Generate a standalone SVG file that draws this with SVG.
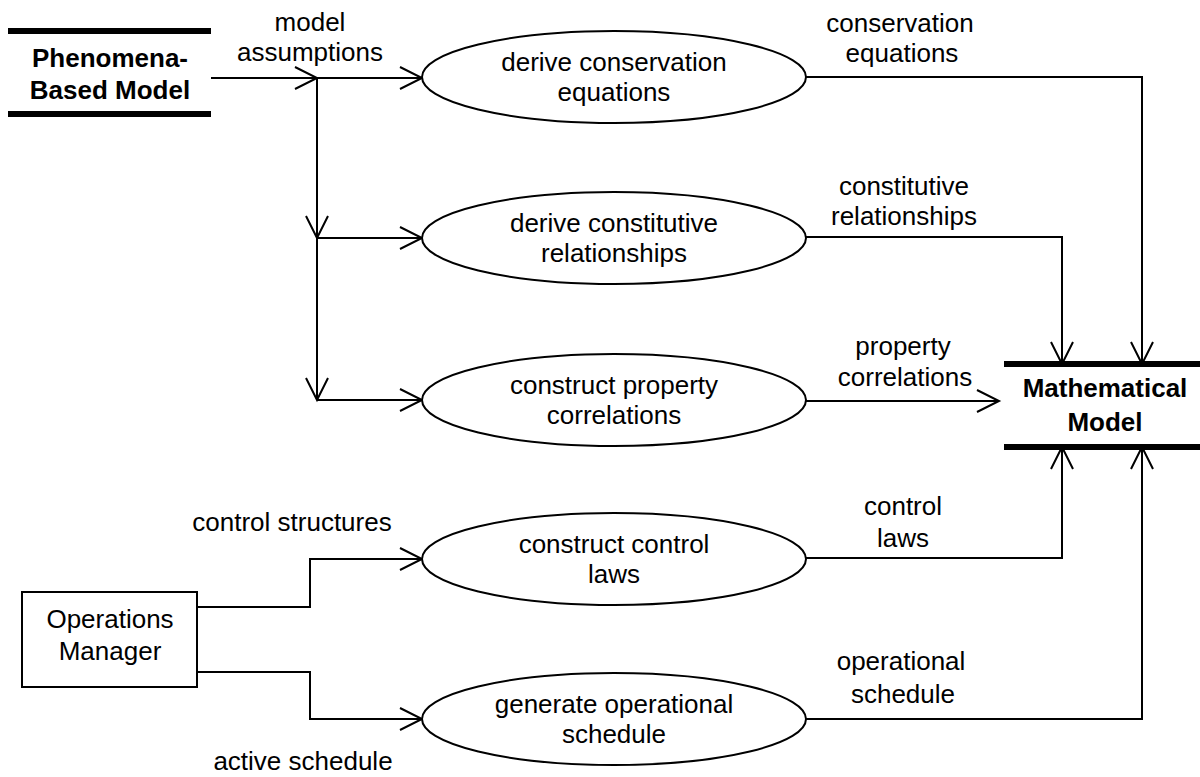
<svg xmlns="http://www.w3.org/2000/svg" width="1200" height="777" viewBox="0 0 1200 777">
<style>
text{font-family:"Liberation Sans",Arial,Helvetica,sans-serif;font-size:26px;fill:#000;text-anchor:middle}
.b{font-weight:bold}
.ln{fill:none;stroke:#000;stroke-width:2}
.bar{stroke:#000;stroke-width:6}
.el{fill:#fff;stroke:#000;stroke-width:2}
</style>
<defs>
<marker id="ah" markerUnits="userSpaceOnUse" markerWidth="26" markerHeight="26" refX="23" refY="12" orient="auto" viewBox="0 0 26 24">
<path d="M1,1 L23,12 L1,23" fill="none" stroke="#000" stroke-width="2"/>
</marker>
</defs>
<rect width="1200" height="777" fill="#fff"/>
<g id="connectors">
<path class="ln" d="M211,78 L317,78" marker-end="url(#ah)"/>
<path class="ln" d="M317,78 L422,78" marker-end="url(#ah)"/>
<path class="ln" d="M317,78 L317,238" marker-end="url(#ah)"/>
<path class="ln" d="M317,238 L317,400" marker-end="url(#ah)"/>
<path class="ln" d="M317,238 L422,238" marker-end="url(#ah)"/>
<path class="ln" d="M317,400 L422,400" marker-end="url(#ah)"/>
<path class="ln" d="M806,77 L1142,77 L1142,364" marker-end="url(#ah)"/>
<path class="ln" d="M806,237 L1062,237 L1062,364" marker-end="url(#ah)"/>
<path class="ln" d="M806,401 L999,401" marker-end="url(#ah)"/>
<path class="ln" d="M806,558 L1062,558 L1062,447" marker-end="url(#ah)"/>
<path class="ln" d="M806,719 L1142,719 L1142,447" marker-end="url(#ah)"/>
<path class="ln" d="M197,607 L310,607 L310,559 L422,559" marker-end="url(#ah)"/>
<path class="ln" d="M197,672 L310,672 L310,719 L422,719" marker-end="url(#ah)"/>
<text x="310" y="31">model</text>
<text x="310" y="61">assumptions</text>
<text x="900" y="32">conservation</text>
<text x="902" y="62">equations</text>
<text x="904" y="195">constitutive</text>
<text x="904" y="225">relationships</text>
<text x="903" y="355">property</text>
<text x="905" y="386">correlations</text>
<text x="903" y="515">control</text>
<text x="903" y="547">laws</text>
<text x="901" y="670">operational</text>
<text x="903" y="703">schedule</text>
<text x="292" y="531">control structures</text>
<text x="303" y="770">active schedule</text>
</g>
<g id="phenomena-based-model">
<line class="bar" x1="8" y1="31" x2="211" y2="31"/>
<line class="bar" x1="8" y1="114" x2="211" y2="114"/>
<text class="b" x="110" y="67">Phenomena-</text>
<text class="b" x="110" y="99">Based Model</text>
</g>
<g id="mathematical-model">
<line class="bar" x1="1004" y1="364" x2="1200" y2="364"/>
<line class="bar" x1="1004" y1="447" x2="1200" y2="447"/>
<text class="b" x="1105" y="397">Mathematical</text>
<text class="b" x="1105" y="431">Model</text>
</g>
<g id="operations-manager">
<rect x="22" y="592" width="175" height="95" fill="#fff" stroke="#000" stroke-width="2"/>
<text x="110" y="628">Operations</text>
<text x="110" y="660">Manager</text>
</g>
<g id="derive-conservation-equations">
<ellipse class="el" cx="614" cy="77" rx="192" ry="46"/>
<text x="614" y="71">derive conservation</text>
<text x="614" y="101">equations</text>
</g>
<g id="derive-constitutive-relationships">
<ellipse class="el" cx="614" cy="238" rx="192" ry="46"/>
<text x="614" y="232">derive constitutive</text>
<text x="614" y="262">relationships</text>
</g>
<g id="construct-property-correlations">
<ellipse class="el" cx="614" cy="400" rx="192" ry="46"/>
<text x="614" y="394">construct property</text>
<text x="614" y="424">correlations</text>
</g>
<g id="construct-control-laws">
<ellipse class="el" cx="614" cy="559" rx="192" ry="46"/>
<text x="614" y="553">construct control</text>
<text x="614" y="583">laws</text>
</g>
<g id="generate-operational-schedule">
<ellipse class="el" cx="614" cy="719" rx="192" ry="46"/>
<text x="614" y="713">generate operational</text>
<text x="614" y="743">schedule</text>
</g>
</svg>
